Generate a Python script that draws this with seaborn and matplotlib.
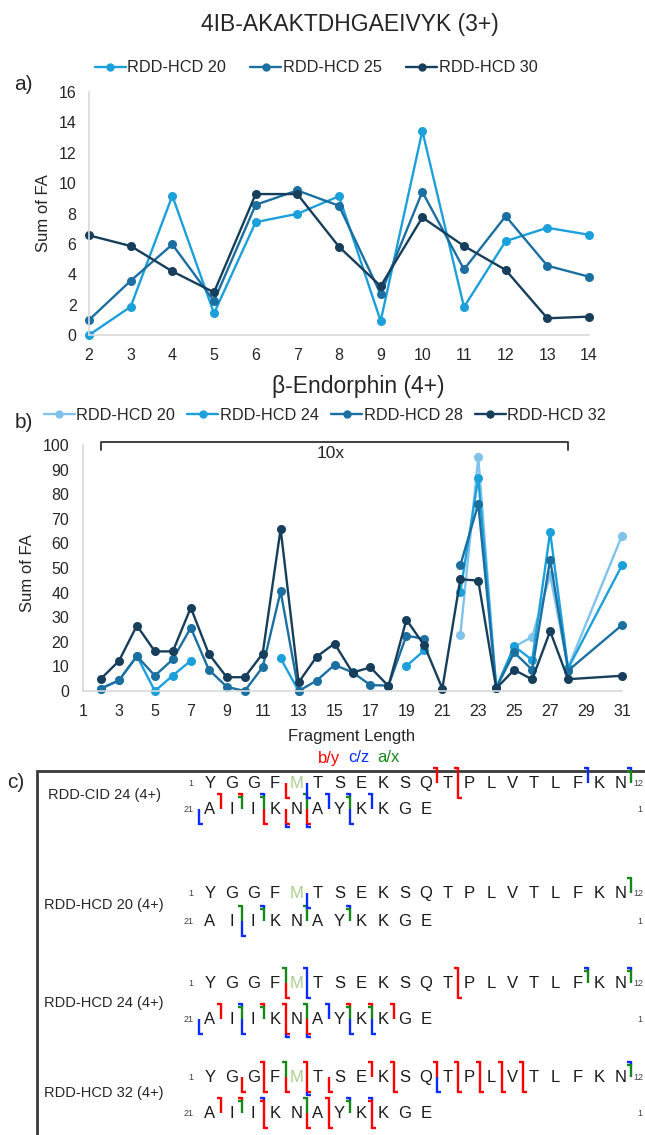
import numpy as np
import pandas as pd
import matplotlib
matplotlib.use("Agg")
import matplotlib.pyplot as plt
import seaborn as sns
from matplotlib.lines import Line2D

sns.set_theme(style="white")
plt.rcParams["font.family"] = ["Liberation Sans", "DejaVu Sans"]

# ---------------- data: panel a ----------------
frag_a = [2, 3, 4, 5, 6, 7, 8, 9, 10, 11, 12, 13, 14]
a_hcd20 = [0.0, 1.86, 9.17, 1.43, 7.43, 7.98, 9.14, 0.92, 13.44, 1.84, 6.18, 7.06, 6.60]
a_hcd25 = [0.99, 3.57, 5.96, 2.24, 8.57, 9.52, 8.51, 2.70, 9.43, 4.32, 7.83, 4.56, 3.84]
a_hcd30 = [6.56, 5.86, 4.19, 2.81, 9.28, 9.28, 5.81, 3.22, 7.74, 5.86, 4.28, 1.10, 1.21]
a_labels = ["RDD-HCD 20", "RDD-HCD 25", "RDD-HCD 30"]
a_colors = ["#1ca0dc", "#1b6fa1", "#173e5a"]

# ---------------- data: panel b ----------------
nan = np.nan
frag_b = [2, 3, 4, 5, 6, 7, 8, 9, 10, 11, 12, 13, 14, 15, 16, 17, 18, 19, 20, 21,
          22, 23, 24, 25, 26, 27, 28, 31]
b_hcd20 = [nan, nan, nan, nan, nan, nan, nan, nan, nan, nan, nan, nan, nan, nan, nan, nan,
           nan, nan, nan, nan, 22.7, 95.0, 1.3, 18.0, 22.0, 47.0, 9.5, 63.2]
b_hcd24 = [1.0, 4.3, 14.2, 0.0, 6.3, 12.3, nan, nan, nan, nan, 13.3, 0.0, nan, nan, nan, nan,
           nan, 10.2, 16.5, nan, 40.3, 86.6, 1.3, 18.2, 12.6, 64.6, 9.2, 51.1]
b_hcd28 = [1.0, 4.3, 14.2, 6.2, 12.9, 25.7, 8.7, 1.7, 0.0, 9.7, 40.5, 0.0, 4.2, 10.6, 7.6, 2.4,
           2.2, 22.5, 21.2, nan, 51.1, 76.0, 1.3, 15.7, 8.6, 53.4, 8.3, 26.8]
b_hcd32 = [5.0, 12.2, 26.6, 16.1, 16.1, 33.9, 15.1, 5.6, 5.6, 15.2, 65.9, 3.5, 13.9, 19.3, 7.5,
           9.6, 2.0, 29.0, 18.5, 1.0, 45.4, 44.9, 1.1, 8.6, 4.7, 24.3, 4.8, 6.2]
b_labels = ["RDD-HCD 20", "RDD-HCD 24", "RDD-HCD 28", "RDD-HCD 32"]
b_colors = ["#7fc3ea", "#1ca0dc", "#1b6fa1", "#173e5a"]
b_ticks = list(range(1, 32, 2))

# ---------------- data: panel c ----------------
seq_top = "YGGFMTSEKSQTPLVTLFKN"   # residues 1-20
seq_bot = "AIIKNAYKKGE"            # residues 21-31
spectra = ["RDD-CID 24 (4+)", "RDD-HCD 20 (4+)", "RDD-HCD 24 (4+)", "RDD-HCD 32 (4+)"]
# cleavage after residue i : ion types (N-terminal b/c/a, C-terminal y/z/x)
cid24_n = {11: "b", 12: "b", 18: "c", 20: "ca", 21: "b", 22: "ba", 23: "ca", 25: "a", 26: "c", 27: "ca", 28: "c"}
cid24_c = {4: "y", 5: "z", 12: "y", 20: "z", 23: "y", 24: "yz", 25: "yz", 27: "z"}
hcd20_n = {20: "a", 22: "a", 23: "ca", 25: "a", 27: "ca"}
hcd20_c = {5: "z", 22: "z"}
hcd24_n = {4: "a", 5: "c", 12: "b", 18: "ca", 20: "ca", 21: "b", 22: "ca", 23: "ba", 24: "b",
           25: "a", 26: "c", 27: "ba", 28: "ba", 29: "b"}
hcd24_c = {4: "y", 5: "z", 12: "y", 20: "z", 22: "z", 24: "yz", 25: "yz", 27: "z", 28: "z"}
hcd32_n = {3: "b", 4: "a", 5: "b", 8: "b", 9: "b", 11: "b", 12: "b", 13: "b", 14: "b", 15: "b",
           20: "ca", 21: "b", 22: "ba", 23: "cb", 25: "a", 26: "b", 27: "ca", 28: "cb"}
hcd32_c = {2: "y", 3: "y", 4: "y", 5: "yz", 6: "y", 9: "y", 11: "z", 12: "y", 13: "y", 14: "y",
           15: "y", 23: "y", 25: "y", 26: "y", 28: "y"}
frag_n = [cid24_n, hcd20_n, hcd24_n, hcd32_n]
frag_c = [cid24_c, hcd20_c, hcd24_c, hcd32_c]
ion_colors = {"b": "#ff0000", "y": "#ff0000", "c": "#0a2cff", "z": "#0a2cff", "a": "#16891a", "x": "#16891a"}

# ---------------- figure ----------------
W, H = 645, 1135
fig = plt.figure(figsize=(W / 100, H / 100), dpi=100)


def rect(x0, y0, x1, y1):
    return [x0 / W, 1 - y1 / H, (x1 - x0) / W, (y1 - y0) / H]


def style_axes(ax):
    for s in ["top", "right"]:
        ax.spines[s].set_visible(False)
    for s in ["left", "bottom"]:
        ax.spines[s].set_color("#d9d9d9")
        ax.spines[s].set_linewidth(1.2)
    ax.tick_params(axis="both", length=0, labelsize=11.5, colors="#262626")
    ax.grid(False)


# ---- panel a ----
ax_a = fig.add_axes(rect(89, 92, 589, 335))
df_a = pd.DataFrame({
    "Fragment": frag_a * 3,
    "FA": a_hcd20 + a_hcd25 + a_hcd30,
    "Series": [lab for lab in a_labels for _ in frag_a],
})
sns.lineplot(data=df_a, x="Fragment", y="FA", hue="Series", hue_order=a_labels,
             palette=a_colors, marker="o", markersize=6.5, markeredgewidth=0,
             linewidth=1.7, ax=ax_a, legend=False, clip_on=False)
ax_a.set_xlim(2, 14)
ax_a.set_ylim(0, 16)
ax_a.set_xticks(frag_a)
ax_a.set_yticks(range(0, 17, 2))
ax_a.set_xlabel("")
ax_a.set_ylabel("Sum of FA", fontsize=12, color="#262626")
ax_a.yaxis.set_label_coords(-0.076, 0.5)
style_axes(ax_a)
ax_a.tick_params(axis="y", pad=9)
ax_a.tick_params(axis="x", pad=9)

# ---- panel b ----
ax_b = fig.add_axes(rect(83, 445, 622, 691))
rows = []
for lab, vals in zip(b_labels, [b_hcd20, b_hcd24, b_hcd28, b_hcd32]):
    seg, gap = 0, True
    for xv, v in zip(frag_b, vals):
        if np.isnan(v):
            gap = True
            continue
        if gap:
            seg += 1
            gap = False
        rows.append((lab, f"{lab}-{seg}", xv, v))
df_b = pd.DataFrame(rows, columns=["Series", "Segment", "Fragment", "FA"])
sns.lineplot(data=df_b, x="Fragment", y="FA", hue="Series", hue_order=b_labels,
             units="Segment", estimator=None, palette=b_colors, marker="o",
             markersize=6.5, markeredgewidth=0, linewidth=1.7, ax=ax_b,
             legend=False, clip_on=False)
ax_b.set_xlim(1, 31)
ax_b.set_ylim(0, 100)
ax_b.set_xticks(b_ticks)
ax_b.set_yticks(range(0, 101, 10))
ax_b.set_xlabel("")
ax_b.set_ylabel("Sum of FA", fontsize=12, color="#262626")
ax_b.yaxis.set_label_coords(-0.089, 0.48)
style_axes(ax_b)
ax_b.tick_params(axis="y", pad=10)
ax_b.tick_params(axis="x", pad=9)
# 10x bracket
ax_b.plot([2, 2, 28, 28], [98.1, 101.3, 101.3, 98.1], color="#404040", lw=1.4, clip_on=False)
ax_b.text(14.8, 96.5, "10x", ha="center", va="center", fontsize=12.5, color="#262626")

# ---- titles, legends, labels ----
fig.text(350 / W, 1 - 25 / H, "4IB-AKAKTDHGAEIVYK (3+)", ha="center", va="center",
         fontsize=16.5, color="#262626")
fig.text(358 / W, 1 - 387 / H, "\u03b2-Endorphin (4+)", ha="center", va="center",
         fontsize=16.5, color="#262626")
fig.text(23 / W, 1 - 84 / H, "a)", ha="center", va="center", fontsize=15, color="#262626")
fig.text(24 / W, 1 - 422 / H, "b)", ha="center", va="center", fontsize=15, color="#262626")
fig.text(16 / W, 1 - 783 / H, "c)", ha="center", va="center", fontsize=15, color="#262626")

ha_ = [Line2D([0], [0], color=c, marker="o", markersize=5, lw=1.7) for c in a_colors]
fig.legend(ha_, a_labels, loc="center", bbox_to_anchor=(316 / W, 1 - 68 / H), ncol=3,
           frameon=False, fontsize=11.7, handlelength=1.9, handletextpad=0.1,
           columnspacing=1.5, labelcolor="#262626")
hb_ = [Line2D([0], [0], color=c, marker="o", markersize=5, lw=1.7) for c in b_colors]
fig.legend(hb_, b_labels, loc="center", bbox_to_anchor=(325 / W, 1 - 415 / H), ncol=4,
           frameon=False, fontsize=11.7, handlelength=1.9, handletextpad=0.1,
           columnspacing=0.75, labelcolor="#262626")

fig.text(352 / W, 1 - 737 / H, "Fragment Length", ha="center", va="center", fontsize=12,
         color="#262626")
for txt, cx, col in [("b/y", 329, "#ff0000"), ("c/z", 359, "#0a2cff"), ("a/x", 388, "#16891a")]:
    fig.text(cx / W, 1 - 758 / H, txt, ha="center", va="center", fontsize=12, color=col)

# ---- panel c : fragment maps ----
ax_c = fig.add_axes(rect(0, 760, 645, 1135))
ax_c.set_xlim(0, W)
ax_c.set_ylim(1135, 760)
ax_c.axis("off")
ax_c.plot([37, 37, 645], [1135, 771, 771], color="#3a3a3a", lw=2.0, clip_on=False,
          solid_joinstyle="miter")

x0c, dx = 210, 21.6
row_centers = [(782, 808), (892, 920), (982, 1018), (1076, 1112)]
label_y = [795, 905, 1003, 1093]
tick = 4.0
lwc = 1.7


def draw_n(xc, yc, types):
    ytop = yc - 14
    k = len(types)
    for j, t in enumerate(types):
        yt = ytop + 3 * j
        ax_c.plot([xc - tick, xc], [yt, yt], color=ion_colors[t], lw=lwc, solid_capstyle="butt")
        yend = ytop + 3 * (j + 1) if j < k - 1 else yc + 1
        ax_c.plot([xc, xc], [yt - 0.6, yend], color=ion_colors[t], lw=lwc, solid_capstyle="butt")


def draw_c(xc, yc, types):
    ybot = yc + 16
    ystart = yc + 1
    for j, t in enumerate(types):
        yb = ybot + 3 * j
        ax_c.plot([xc, xc], [ystart, yb + 0.6], color=ion_colors[t], lw=lwc, solid_capstyle="butt")
        ax_c.plot([xc, xc + tick], [yb, yb], color=ion_colors[t], lw=lwc, solid_capstyle="butt")
        ystart = yb


for r, name in enumerate(spectra):
    yt, yb = row_centers[r]
    ax_c.text(104, label_y[r], name, ha="center", va="center", fontsize=10.5, color="#262626")
    for j, aa in enumerate(seq_top):
        ax_c.text(x0c + j * dx, yt + 6, aa, ha="center", va="baseline", fontsize=12,
                  color="#a9d18e" if aa == "M" else "#1a1a1a")
    for j, aa in enumerate(seq_bot):
        ax_c.text(x0c + j * dx, yb + 6, aa, ha="center", va="baseline", fontsize=12,
                  color="#1a1a1a")
    ax_c.text(x0c - 0.9 * dx, yt + 4, "1", ha="center", va="baseline", fontsize=6.5, color="#404040")
    ax_c.text(x0c + 19.5 * dx + 2, yt + 4, "12", ha="left", va="baseline", fontsize=6.5, color="#404040")
    ax_c.text(x0c - 1.0 * dx, yb + 4, "21", ha="center", va="baseline", fontsize=6.5, color="#404040")
    ax_c.text(640, yb + 4, "1", ha="center", va="baseline", fontsize=6.5, color="#404040")
    for i, types in frag_n[r].items():
        if i <= 20:
            draw_n(x0c + (i - 0.5) * dx, yt, types)
        else:
            draw_n(x0c + (i - 21 + 0.5) * dx, yb, types)
    for i, types in frag_c[r].items():
        if i < 20:
            draw_c(x0c + (i - 0.5) * dx, yt, types)
        else:
            draw_c(x0c + (i - 21 + 0.5) * dx, yb, types)

fig.savefig("out.png", dpi=100)
